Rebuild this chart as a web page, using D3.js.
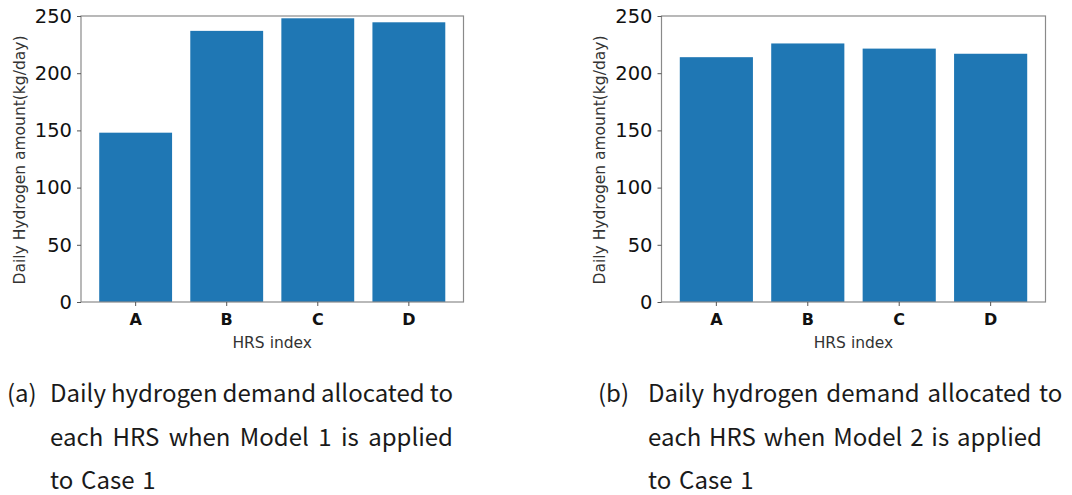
<!DOCTYPE html>
<html>
<head>
<meta charset="utf-8">
<script src="https://cdn.jsdelivr.net/npm/d3@7"></script>
<style>
  body { margin: 0; background: #fff; }
  svg { display: block; }
</style>
</head>
<body>
<svg id="chart" width="1072" height="495"></svg>
<script>
const stations = ["A", "B", "C", "D"];
const model1 = [148, 237, 248, 244.5];
const model2 = [214, 226, 221.5, 217];
const yTicks = [0, 50, 100, 150, 200, 250];
const yLabel = "Daily Hydrogen amount(kg/day)";
const xLabel = "HRS index";
const captionA = ["Daily hydrogen demand allocated to", "each HRS when Model 1 is applied", "to Case 1"];
const captionB = ["Daily hydrogen demand allocated to", "each HRS when Model 2 is applied", "to Case 1"];

const svg = d3.select("#chart");
const barColor = "#1f77b4";
const plotTop = 16, plotBottom = 302;

function panel(x0, x1, values, labelX) {
  const g = svg.append("g");
  const x = d3.scaleBand().domain(stations).range([x0, x1]).paddingInner(0.2).paddingOuter(0.2);
  const y = d3.scaleLinear().domain([0, 250]).range([plotBottom, plotTop]);

  g.selectAll("rect.bar")
    .data(values)
    .join("rect")
      .attr("class", "bar")
      .attr("x", (d, i) => x(stations[i]))
      .attr("width", x.bandwidth())
      .attr("y", d => y(d))
      .attr("height", d => y(0) - y(d))
      .attr("fill", barColor);

  // frame
  g.append("rect")
    .attr("x", x0).attr("y", plotTop)
    .attr("width", x1 - x0).attr("height", plotBottom - plotTop)
    .attr("fill", "none").attr("stroke", "#8a8a8a").attr("stroke-width", 1.2);

  const yAxis = g.append("g")
    .attr("transform", `translate(${x0},0)`)
    .call(d3.axisLeft(y).tickValues(yTicks).tickSize(4).tickPadding(5));
  yAxis.select(".domain").remove();
  yAxis.selectAll("line").attr("stroke", "#555");
  yAxis.selectAll("text")
    .attr("font-family", "DejaVu Sans").attr("font-size", 19.5).attr("fill", "#111");

  const xAxis = g.append("g")
    .attr("transform", `translate(0,${plotBottom})`)
    .call(d3.axisBottom(x).tickSize(4).tickPadding(8));
  xAxis.select(".domain").remove();
  xAxis.selectAll("line").attr("stroke", "#555");
  xAxis.selectAll("text")
    .attr("font-family", "DejaVu Sans").attr("font-weight", "bold")
    .attr("font-size", 16).attr("fill", "#111");

  g.append("text")
    .attr("x", (x0 + x1) / 2).attr("y", 348)
    .attr("text-anchor", "middle")
    .attr("font-family", "DejaVu Sans").attr("font-size", 15.5).attr("fill", "#333")
    .text(xLabel);

  g.append("text")
    .attr("transform", `translate(${labelX},${(plotTop + plotBottom) / 2 + 1}) rotate(-90)`)
    .attr("text-anchor", "middle").attr("dy", "0.35em")
    .attr("font-family", "DejaVu Sans").attr("font-size", 15.5).attr("fill", "#333")
    .text(yLabel);
}

panel(81, 463.5, model1, 20);
panel(661.5, 1045.5, model2, 600);

const capFont = "Noto Sans CJK KR";
const capSize = 24;
const baselines = [402, 446, 489];

function caption(tag, tagX, textX, lines, justifyWidth) {
  const g = svg.append("g")
    .attr("font-family", capFont).attr("font-size", capSize).attr("fill", "#1a1a1a");
  g.append("text").attr("x", tagX).attr("y", baselines[0]).text(tag);
  lines.forEach((line, li) => {
    const justify = justifyWidth && li < lines.length - 1;
    if (!justify) {
      g.append("text").attr("x", textX).attr("y", baselines[li])
        .attr("word-spacing", 2.5).text(line);
      return;
    }
    const words = line.split(" ");
    const nodes = words.map(w => g.append("text").attr("y", baselines[li]).text(w));
    const widths = nodes.map(n => n.node().getComputedTextLength());
    const gap = (justifyWidth - d3.sum(widths)) / (words.length - 1);
    let cx = textX;
    nodes.forEach((n, i) => { n.attr("x", cx); cx += widths[i] + gap; });
  });
}

caption("(a)", 7, 50, captionA, 403);
caption("(b)", 598, 648, captionB, null);
</script>
</body>
</html>
